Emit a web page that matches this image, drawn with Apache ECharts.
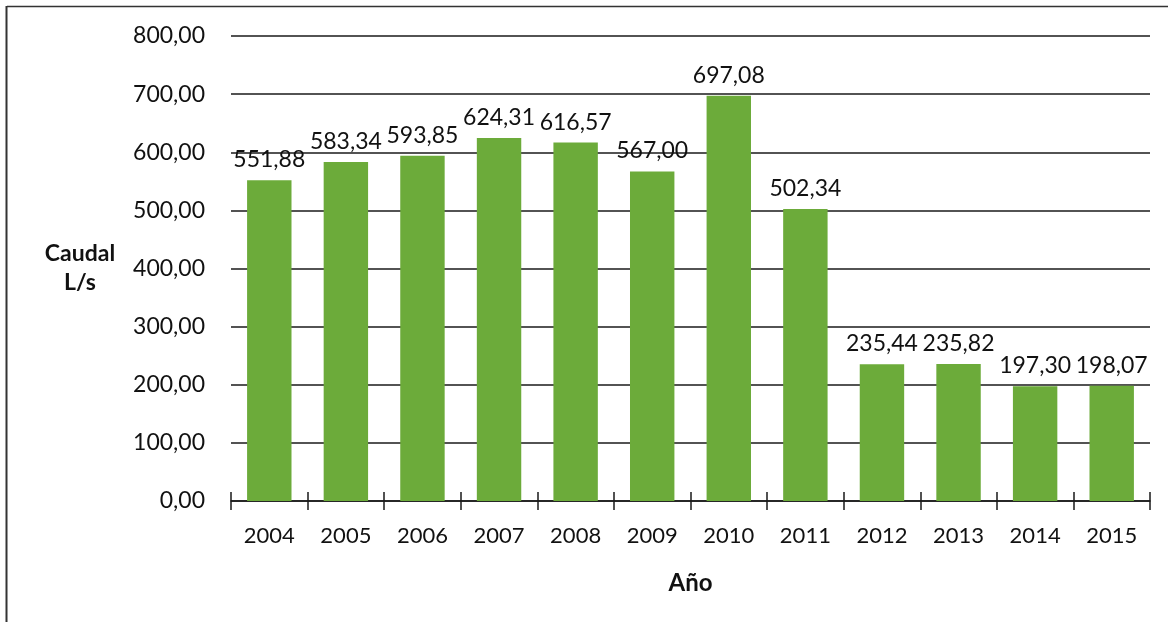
<!DOCTYPE html>
<html><head><meta charset="utf-8">
<script src="https://cdn.jsdelivr.net/npm/echarts@6/dist/echarts.min.js"></script>
<style>html,body{margin:0;padding:0;background:#fff}#c{width:1168px;height:622px}</style>
</head><body><div id="c"></div>
<script>
const years = ['2004','2005','2006','2007','2008','2009','2010','2011','2012','2013','2014','2015'];
const caudal = [551.88,583.34,593.85,624.31,616.57,567.00,697.08,502.34,235.44,235.82,197.30,198.07];
const yTicks = {min:0, max:800, interval:100};
const fmt = v => v.toFixed(2).replace('.', ',');
const font = 'Lato, "Open Sans", sans-serif';
const chart = echarts.init(document.getElementById('c'));
chart.setOption({
  animation:false,
  backgroundColor:'#fff',
  grid:{left:231,right:18,top:36,bottom:121,containLabel:false},
  xAxis:[{
    type:'category', data:years,
    name:'Año', nameLocation:'middle', nameGap:70,
    nameTextStyle:{fontFamily:font,fontWeight:'bold',fontSize:24,color:'#111'},
    axisLine:{lineStyle:{color:'#1a1a1a',width:1.5}},
    axisTick:{show:true,length:9,lineStyle:{color:'#1a1a1a',width:1.5}},
    axisLabel:{fontFamily:font,fontSize:22,color:'#111',margin:24}
  },{
    type:'category', data:years, position:'bottom',
    axisLine:{show:false},
    axisTick:{show:true,inside:true,length:9,lineStyle:{color:'#1a1a1a',width:1.5}},
    axisLabel:{show:false}
  }],
  yAxis:{
    type:'value', min:yTicks.min, max:yTicks.max, interval:yTicks.interval,
    name:'Caudal\nL/s', nameLocation:'middle', nameGap:151, nameRotate:0,
    nameTextStyle:{fontFamily:font,fontWeight:'bold',fontSize:23,color:'#111',align:'center',lineHeight:29},
    axisLine:{show:false}, axisTick:{show:false},
    axisLabel:{fontFamily:font,fontSize:23,color:'#111',margin:26,formatter:fmt},
    splitLine:{lineStyle:{color:'#1a1a1a',width:1.5}}
  },
  series:[{
    type:'bar', data:caudal, barCategoryGap:'42%',
    itemStyle:{color:'#6cab3a'},
    label:{show:true,position:'top',distance:9,fontFamily:font,fontSize:23,color:'#111',formatter:p=>fmt(p.value)}
  }],
  graphic:[
    {type:'line',shape:{x1:7,y1:6.5,x2:1168,y2:6.5},style:{stroke:'#333',lineWidth:1.5}},
    {type:'line',shape:{x1:6.5,y1:6,x2:6.5,y2:622},style:{stroke:'#333',lineWidth:2}}
  ]
});
</script></body></html>
